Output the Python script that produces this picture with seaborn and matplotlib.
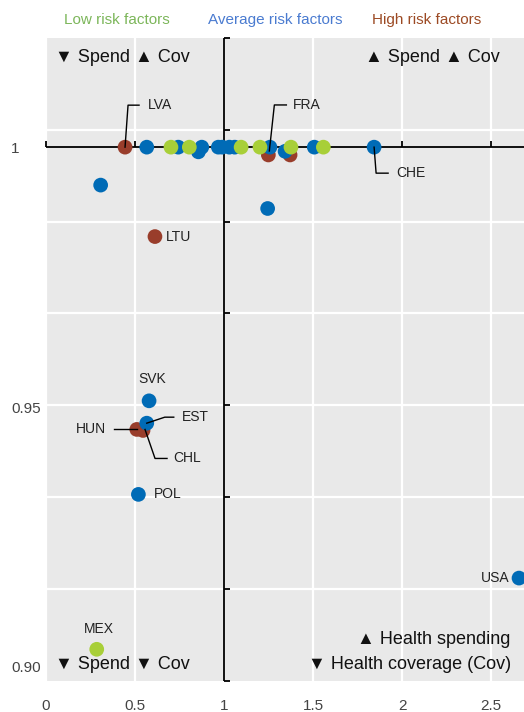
import matplotlib
matplotlib.use("Agg")
import matplotlib.pyplot as plt
import numpy as np
import pandas as pd
import seaborn as sns

# ── Data ──────────────────────────────────────────────────────────────────────
countries = ["LVA", "FRA", "",
             "", "", "", "", "", "", "", "", "", "", "", "CHE",
             "", "", "", "", "", "",
             "", "", "LTU", "SVK", "EST", "HUN", "CHL", "POL", "MEX", "USA"]
spend = [0.444, 1.249, 1.371,
         0.566, 0.743, 0.856, 0.875, 0.968, 0.990, 1.030, 1.060, 1.258, 1.343, 1.507, 1.843,
         0.702, 0.805, 1.096, 1.202, 1.376, 1.558,
         0.307, 1.245, 0.612, 0.579, 0.566, 0.510, 0.545, 0.519, 0.285, 2.657]
coverage = [1.000, 0.9985, 0.9985,
            1.000, 1.000, 0.9991, 1.000, 1.000, 1.000, 1.000, 1.000, 1.000, 0.9992, 1.000, 1.000,
            1.000, 1.000, 1.000, 1.000, 1.000, 1.000,
            0.9927, 0.9882, 0.9828, 0.9512, 0.9469, 0.9457, 0.9455, 0.9332, 0.9034, 0.9171]
risk = ["High", "High", "High",
        "Average", "Average", "Average", "Average", "Average", "Average", "Average",
        "Average", "Average", "Average", "Average", "Average",
        "Low", "Low", "Low", "Low", "Low", "Low",
        "Average", "Average", "High", "Average", "Average", "High", "High", "Average",
        "Low", "Average"]

risk_order = ["High", "Average", "Low"]          # drawing order: green on top
legend_labels = ["Low risk factors", "Average risk factors", "High risk factors"]
x_ticks = [0, 0.5, 1, 1.5, 2, 2.5]
x_ticklabels = ["0", "0.5", "1", "1.5", "2", "2.5"]
y_ticks = [0.90, 0.95, 1.0]
y_ticklabels = ["0.90", "0.95", "1"]

# ── Style ─────────────────────────────────────────────────────────────────────
dot_colors = {"Low": "#a8cf38", "Average": "#006bb6", "High": "#993d2b"}
text_colors = {"Low": "#7cb65a", "Average": "#4a7bd0", "High": "#9c4a24"}
grid_y = [1.0033, 0.9856, 0.9681, 0.9504, 0.9327, 0.9150]   # chart's own white grid
XLIM = (0, 2.685)
YLIM = (0.8973, 1.021)

# label placement: (text offset px, ha, leader path offsets px)
label_layout = {
    "LVA": ((23, 42), "left", [(0, 0), (3, 42), (14, 42)]),
    "FRA": ((25, 50), "left", [(1, 4), (6, 50), (18, 50)]),
    "CHE": ((22, -26), "left", [(0, 0), (2, -26), (14, -26)]),
    "LTU": ((11, 0), "left", None),
    "SVK": ((3, 22), "center", None),
    "EST": ((35, 6), "left", [(0, 0), (18, 6), (27, 6)]),
    "HUN": ((-31, 0), "right", [(-23, 0), (0, 0)]),
    "CHL": ((30, -28), "left", [(2, 1), (12, -28), (24, -28)]),
    "POL": ((15, 0), "left", None),
    "MEX": ((2, 20), "center", None),
    "USA": ((-10, 0), "right", None),
}

df = pd.DataFrame({"country": countries, "spend": spend,
                   "coverage": coverage, "risk": risk})
df["order"] = df["risk"].map({r: i for i, r in enumerate(risk_order)})
df = df.sort_values("order", kind="stable")

FONT = ["Liberation Sans", "DejaVu Sans"]
plt.rcParams["font.family"] = FONT

fig = plt.figure(figsize=(5.24, 7.12), dpi=100)
ax = fig.add_axes([46 / 524, 31 / 712, 478 / 524, 643 / 712])
ax.set_facecolor("#e9e9e9")

# grid
ax.set_xticks(x_ticks, labels=x_ticklabels)
ax.set_yticks(y_ticks, labels=y_ticklabels)
ax.set_yticks(grid_y, minor=True)
ax.grid(False)
ax.grid(True, which="major", axis="x", color="white", linewidth=1.6)
ax.grid(True, which="minor", axis="y", color="white", linewidth=1.6)
ax.set_axisbelow(True)

# crossing axes at (1, 1)
ax.axvline(1, color="black", linewidth=1.3, zorder=2)
ax.axhline(1, xmin=0, xmax=1, color="black", linewidth=1.3, zorder=2)
tick_right = [(0, 0), (1, 0)]
tick_up = [(0, 0), (0, 1)]
ax.plot([1] * (len(grid_y) + 2), grid_y + list(YLIM), linestyle="none",
        marker=tick_right, markersize=9, markeredgewidth=1.3,
        markeredgecolor="black", clip_on=False, zorder=2)
ax.plot([x for x in x_ticks if x != 1], [1] * (len(x_ticks) - 1), linestyle="none",
        marker=tick_up, markersize=9, markeredgewidth=1.3,
        markeredgecolor="black", clip_on=False, zorder=2)

sns.scatterplot(data=df, x="spend", y="coverage", hue="risk", palette=dot_colors,
                s=112, linewidth=0, alpha=1, legend=False, ax=ax, zorder=3)

ax.set_xlim(*XLIM)
ax.set_ylim(*YLIM)
ax.set_xlabel("")
ax.set_ylabel("")
for sp in ax.spines.values():
    sp.set_visible(False)
ax.tick_params(axis="both", which="both", length=0, labelsize=11, labelcolor="#444444")
ax.tick_params(axis="x", pad=13)
ax.tick_params(axis="y", pad=25)
for lab in ax.get_yticklabels():
    lab.set_horizontalalignment("left")

# country labels with leader lines (offsets in pixels)
fig.canvas.draw()
for _, row in df.iterrows():
    if row["country"] not in label_layout:
        continue
    (tx, ty), ha, path = label_layout[row["country"]]
    px, py = ax.transData.transform((row["spend"], row["coverage"]))
    ax.text(px + tx, py + ty, row["country"], transform=None, ha=ha, va="center",
            fontsize=10, color="#222222", zorder=5)
    if path:
        pts = np.array(path, dtype=float) + [px, py]
        ax.plot(pts[:, 0], pts[:, 1], transform=None, color="black",
                linewidth=1.0, zorder=4, clip_on=False)

# quadrant notes
note = dict(fontsize=13, color="#111111", transform=ax.transAxes, va="center")
ax.text(0.019, 0.970, "▼ Spend ▲ Cov", ha="left", **note)
ax.text(0.950, 0.970, "▲ Spend ▲ Cov", ha="right", **note)
ax.text(0.019, 0.025, "▼ Spend ▼ Cov", ha="left", **note)
ax.text(0.971, 0.064, "▲ Health spending", ha="right", **note)
ax.text(0.973, 0.026, "▼ Health coverage (Cov)", ha="right", **note)

# legend as coloured text
for xc, r, lab in zip([117 / 524, 275 / 524, 427 / 524], ["Low", "Average", "High"],
                      legend_labels):
    fig.text(xc, 1 - 20 / 712, lab, ha="center", va="center", fontsize=11,
             color=text_colors[r])

fig.savefig("out.png", dpi=100)
